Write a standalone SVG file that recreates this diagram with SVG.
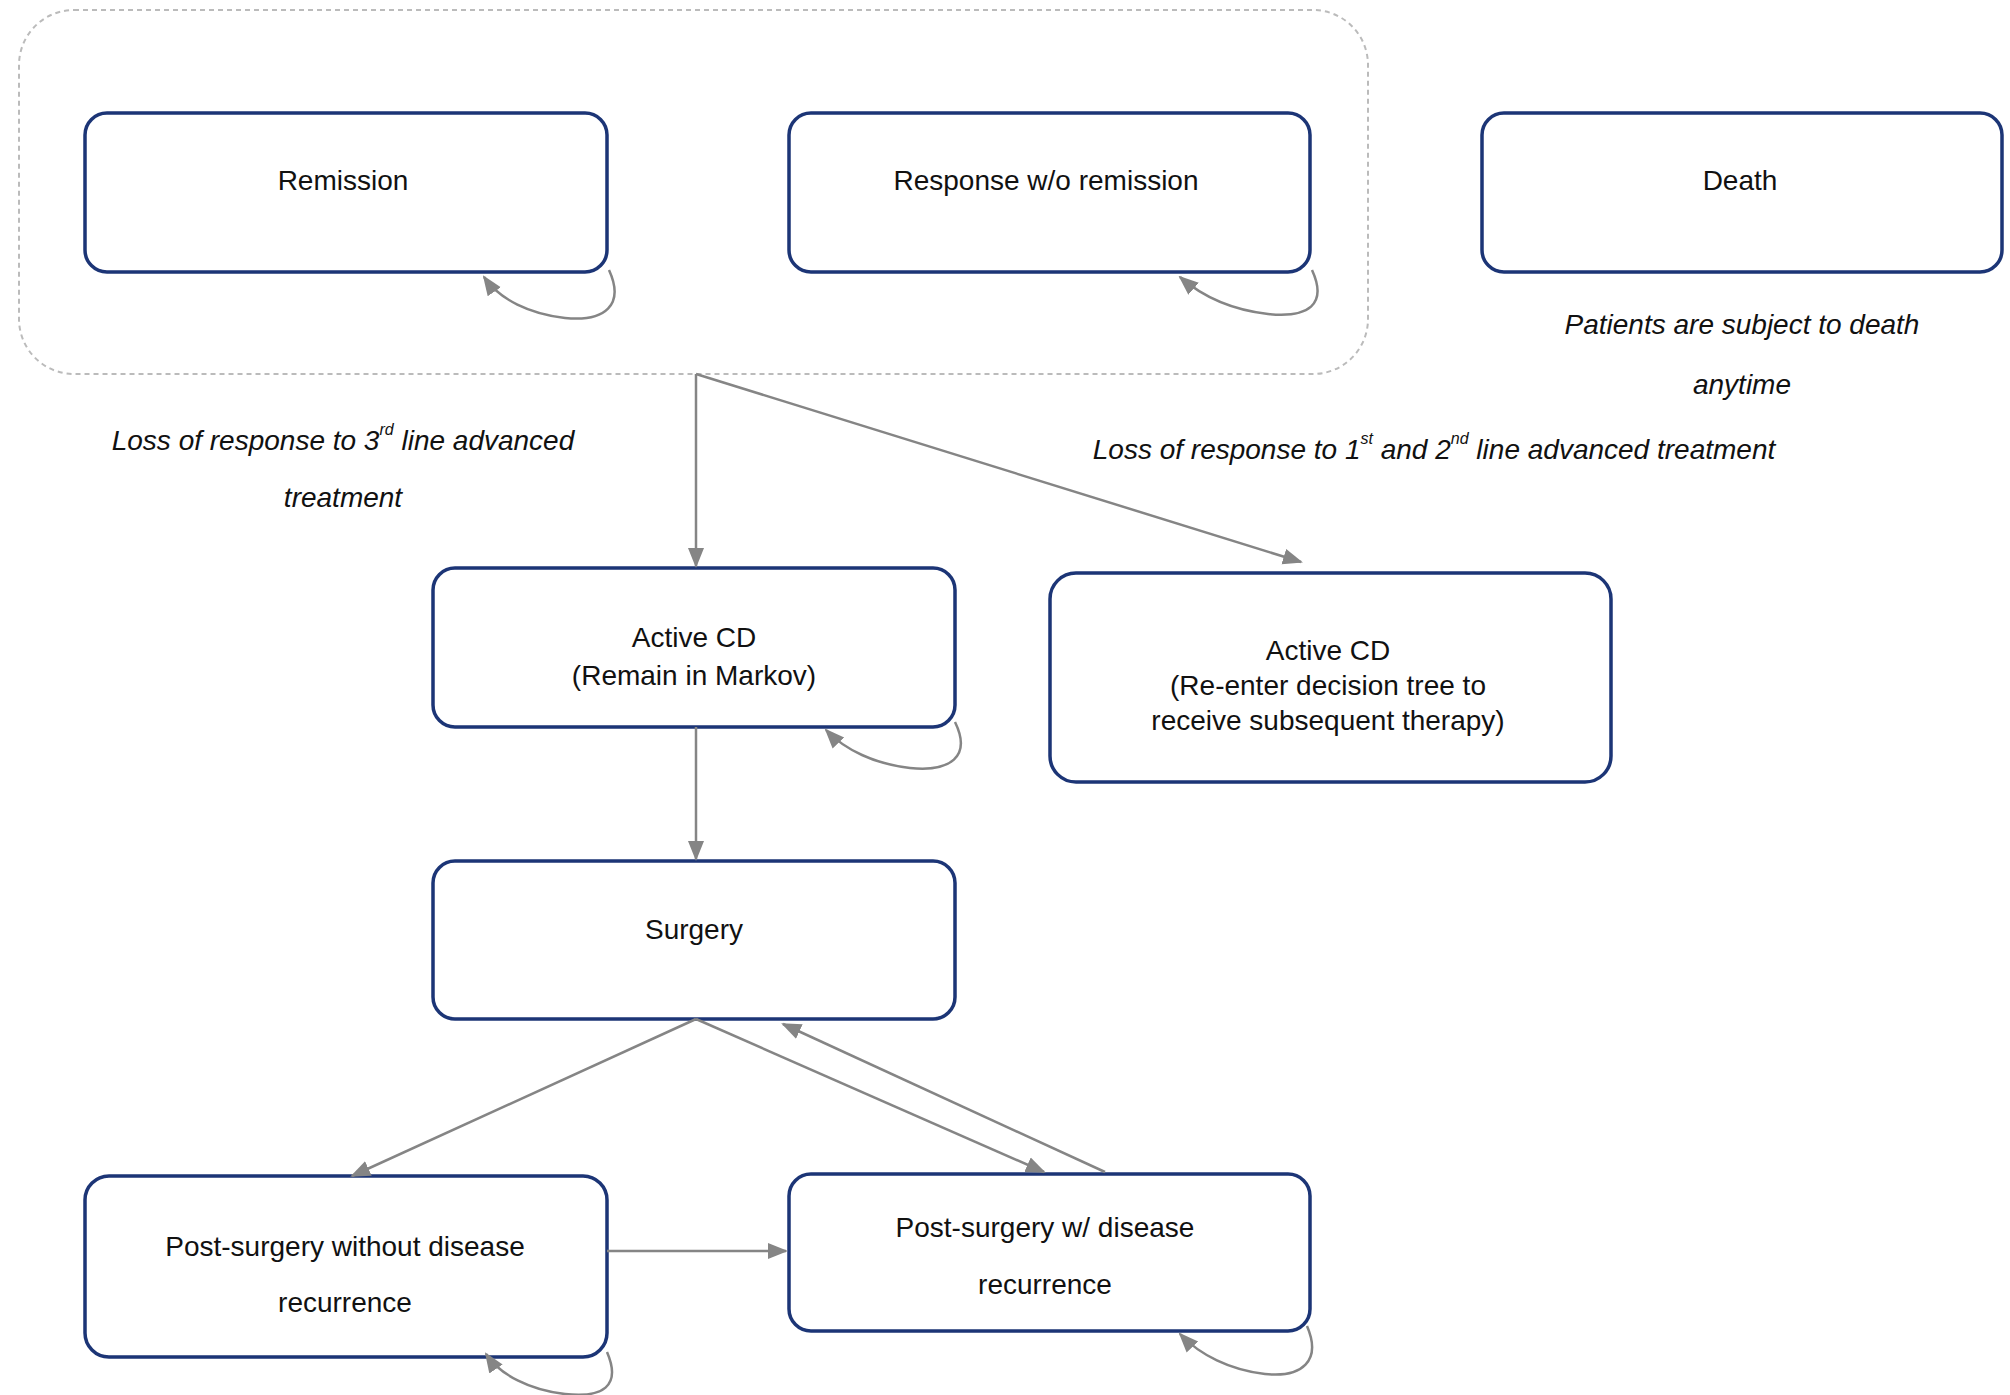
<svg xmlns="http://www.w3.org/2000/svg" width="2010" height="1395" viewBox="0 0 2010 1395">
<style>
.box{fill:#fff;stroke:#1c3576;stroke-width:3.5}
.t{font-family:"Liberation Sans",Arial,sans-serif;font-size:28px;fill:#111;text-anchor:middle;dominant-baseline:middle}
.i{font-style:italic}
.c{fill:none;stroke:#858585;stroke-width:2.5}
</style>
<defs>
<marker id="a" viewBox="0 0 10 10" refX="9" refY="5" markerWidth="8" markerHeight="8" markerUnits="userSpaceOnUse" orient="auto" style="overflow:visible">
<path d="M0,0 L10,5 L0,10 z" fill="#858585" transform="scale(2) translate(-5,-2.5)"/>
</marker>
<marker id="b" viewBox="0 0 20 20" refX="18" refY="10" markerWidth="20" markerHeight="20" markerUnits="userSpaceOnUse" orient="auto">
<path d="M0,2 L20,10 L0,18 z" fill="#858585"/>
</marker>
</defs>
<rect x="19" y="10" width="1349" height="364" rx="55" fill="none" stroke="#bbb" stroke-width="2" stroke-dasharray="5,4"/>
<g id="remission"><rect class="box" x="85" y="113" width="522" height="159" rx="22"/><text class="t" x="343" y="183">Remission</text></g>
<g id="response"><rect class="box" x="789" y="113" width="521" height="159" rx="22"/><text class="t" x="1046" y="183">Response w/o remission</text></g>
<g id="death"><rect class="box" x="1482" y="113" width="520" height="159" rx="22"/><text class="t" x="1740" y="183">Death</text>
<text class="t i" x="1742" y="327">Patients are subject to death</text><text class="t i" x="1742" y="387">anytime</text></g>
<g id="activecd1"><rect class="box" x="433" y="568" width="522" height="159" rx="22"/><text class="t" x="694" y="640">Active CD</text><text class="t" x="694" y="678">(Remain in Markov)</text></g>
<g id="activecd2"><rect class="box" x="1050" y="573" width="561" height="209" rx="26"/><text class="t" x="1328" y="653">Active CD</text><text class="t" x="1328" y="688">(Re-enter decision tree to</text><text class="t" x="1328" y="723">receive subsequent therapy)</text></g>
<g id="surgery"><rect class="box" x="433" y="861" width="522" height="158" rx="22"/><text class="t" x="694" y="932">Surgery</text></g>
<g id="postwo"><rect class="box" x="85" y="1176" width="522" height="181" rx="24"/><text class="t" x="345" y="1249">Post-surgery without disease</text><text class="t" x="345" y="1305">recurrence</text></g>
<g id="postw"><rect class="box" x="789" y="1174" width="521" height="157" rx="22"/><text class="t" x="1045" y="1230">Post-surgery w/ disease</text><text class="t" x="1045" y="1287">recurrence</text></g>
<g id="labels">
<text class="t i" x="343" y="443">Loss of response to 3<tspan font-size="16" dy="-12">rd</tspan><tspan dy="12"> line advanced</tspan></text>
<text class="t i" x="343" y="500">treatment</text>
<text class="t i" x="1434" y="452">Loss of response to 1<tspan font-size="16" dy="-12">st</tspan><tspan dy="12"> and 2</tspan><tspan font-size="16" dy="-12">nd</tspan><tspan dy="12"> line advanced treatment</tspan></text>
</g>
<g id="connectors">
<path class="c" marker-end="url(#b)" d="M696,374 L696,566"/>
<path class="c" marker-end="url(#b)" d="M696,374 L1301,562"/>
<path class="c" marker-end="url(#b)" d="M696,727 L696,859"/>
<path class="c" marker-end="url(#b)" d="M696,1019 L352,1176"/>
<path class="c" marker-end="url(#b)" d="M696,1019 L1044,1172"/>
<path class="c" marker-end="url(#b)" d="M1105,1172 L783,1024"/>
<path class="c" marker-end="url(#b)" d="M607,1251 L786,1251"/>
<path class="c" marker-end="url(#b)" d="M609,270 C625,305 605,322 565,318 C530,314 500,300 484,277"/>
<path class="c" marker-end="url(#b)" d="M1312,270 C1328,305 1308,318 1268,314 C1233,310 1203,297 1180,277"/>
<path class="c" marker-end="url(#b)" d="M955,722 C972,757 950,772 910,768 C875,764 845,750 826,730"/>
<path class="c" marker-end="url(#b)" d="M607,1352 C622,1387 602,1398 565,1394 C530,1390 500,1375 486,1354"/>
<path class="c" marker-end="url(#b)" d="M1307,1326 C1322,1361 1302,1378 1265,1374 C1230,1370 1200,1355 1180,1334"/>
</g>
</svg>
